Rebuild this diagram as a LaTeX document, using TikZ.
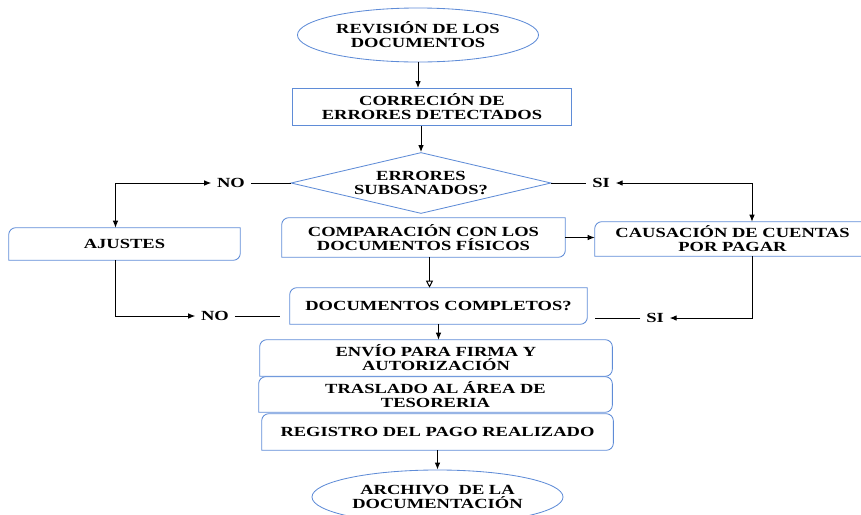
\documentclass[tikz,border=0pt]{standalone}
\usepackage{fontspec}
\setmainfont{Liberation Serif}[FakeStretch=1.33]
\usepackage{xcolor}
\usepackage{tikz}
\usetikzlibrary{arrows.meta,shapes.geometric,positioning}
\definecolor{boxblue}{RGB}{95,140,215}
\newcommand{\boxfont}{\fontsize{9.9}{10}\selectfont\bfseries}

\begin{document}
\begin{tikzpicture}[x=0.025cm, y=-0.025cm,
  every node/.style={font=\boxfont, align=center, inner sep=0pt},
  boxline/.style={draw=boxblue, line width=0.6pt},
  terminal/.style={ellipse, boxline},
  decision/.style={diamond, boxline, aspect=4.2},
  plainbox/.style={rectangle, boxline},
  % top-left and bottom-right corners rounded
  diagbox/.style={append after command={\pgfextra{\draw[boxline]
      ([yshift=-5pt]\tikzlastnode.north west) arc[start angle=180, end angle=90, radius=5pt]
      -- (\tikzlastnode.north east)
      -- ([yshift=5pt]\tikzlastnode.south east) arc[start angle=0, end angle=-90, radius=5pt]
      -- (\tikzlastnode.south west) -- cycle;}}},
  % all corners rounded but the bottom-left one
  stackbox/.style={append after command={\pgfextra{\draw[boxline]
      ([yshift=-5pt]\tikzlastnode.north west) arc[start angle=180, end angle=90, radius=5pt]
      -- ([xshift=-5pt]\tikzlastnode.north east) arc[start angle=90, end angle=0, radius=5pt]
      -- ([yshift=5pt]\tikzlastnode.south east) arc[start angle=0, end angle=-90, radius=5pt]
      -- (\tikzlastnode.south west) -- cycle;}}},
  answer/.style={inner sep=4pt},
  flow/.style={->, >={Latex[length=5pt, width=4pt]}, line width=0.7pt},
  link/.style={line width=0.7pt}]

\useasboundingbox (0,0) rectangle (861,514);
\clip (0,0) rectangle (861,514);

% Start
\node[terminal, minimum width=6.025cm, minimum height=1.35cm] (rev) at (418,35) {REVISIÓN DE LOS\\DOCUMENTOS};

% Main column
\node[plainbox, minimum width=6.975cm, minimum height=0.925cm] (corr) at (432,107) {CORRECIÓN DE\\ERRORES DETECTADOS};
\node[decision, minimum width=6.5cm, minimum height=1.525cm] (err) at (421,183) {ERRORES\\SUBSANADOS?};
\node[diagbox, minimum width=7.075cm, minimum height=0.975cm] (comp) at (423.5,237.5) {COMPARACIÓN CON LOS\\DOCUMENTOS FÍSICOS};
\node[diagbox, minimum width=7.425cm, minimum height=0.9cm] (comple) at (438.5,306) {DOCUMENTOS COMPLETOS?};
\node[stackbox, minimum width=8.8cm, minimum height=0.9cm] (envio) at (436,358) {ENVÍO PARA FIRMA Y\\AUTORIZACIÓN};
\node[stackbox, minimum width=8.825cm, minimum height=0.875cm] (tras) at (435.5,394.5) {TRASLADO AL ÁREA DE\\TESORERIA};
\node[stackbox, minimum width=8.775cm, minimum height=0.9cm] (regi) at (437.5,432) {REGISTRO DEL PAGO REALIZADO};

% Side boxes
\node[diagbox, minimum width=5.775cm, minimum height=0.8cm] (ajus) at (124.5,244) {AJUSTES};
\node[diagbox, minimum width=6.875cm, minimum height=0.85cm] (caus) at (732.5,239) {CAUSACIÓN DE CUENTAS\\POR PAGAR};

% End
\node[terminal, minimum width=6.275cm, minimum height=1.35cm] (arch) at (437.5,497) {ARCHIVO~ DE LA\\DOCUMENTACIÓN};

% Answers
\node[answer] (noA) at (231,183) {NO};
\node[answer] (siA) at (601,183) {SI};
\node[answer] (noB) at (215,316) {NO};
\node[answer] (siB) at (655,318) {SI};

% Connectors
\draw[flow] (rev.south) -- (rev.south |- corr.north);
\draw[flow] (err.north |- corr.south) -- (err.north);
\draw[link] (err.west) -- (noA.east);
\draw[flow, <->] (noA.west) -| ([xshift=-0.225cm]ajus.north);
\draw[link] (err.east) -- (siA.west);
\draw[flow, <->] (siA.east) -| ([xshift=0.4875cm]caus.north);
\draw[flow] (comp.east) -- (comp.east -| caus.west);
\draw[-{Triangle[open, length=5pt, width=5pt]}, line width=0.7pt] ([xshift=0.15cm]comp.south) -- ([xshift=0.15cm]comp.south |- comple.north);
\draw[flow] ([xshift=-0.225cm]ajus.south) |- (noB.west);
\draw[link, shorten >=0.25cm] (noB.east) -- (noB.east -| comple.west);
\draw[flow] ([xshift=0.4875cm]caus.south) |- (siB.east);
\draw[link, shorten >=0.2cm] (siB.west) -- (siB.west -| comple.east);
\draw[flow] (comple.south) -- (comple.south |- envio.north);
\draw[flow] (regi.south) -- (regi.south |- arch.north);

\end{tikzpicture}
\end{document}
